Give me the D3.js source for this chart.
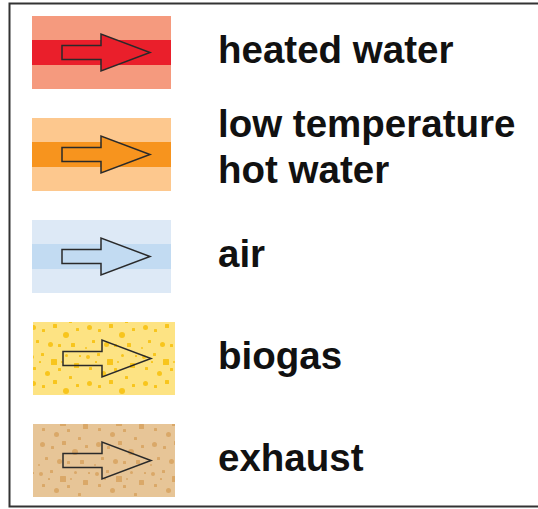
<!DOCTYPE html>
<html>
<head>
<meta charset="utf-8">
<script src="https://cdn.jsdelivr.net/npm/d3@7"></script>
<style>
  body { margin: 0; background: #fff; }
  svg { display: block; }
</style>
</head>
<body>
<div id="chart"></div>
<script>
// legend entries
var keys = ["heated", "lowtemp", "air", "biogas", "exhaust"];
var labels = [["heated water"], ["low temperature", "hot water"], ["air"], ["biogas"], ["exhaust"]];
var outerColors = ["#f59a7e", "#fdc88e", "#dde9f6", "#fde383", "#e7c597"];
var bandColors = ["#ea1f2b", "#f7941e", "#c2dbf2", null, null];
var speckleColors = [null, null, null, "#f8c51c", "#daa868"];

var width = 538, height = 509;
var svg = d3.select("#chart").append("svg").attr("width", width).attr("height", height);

// speckled texture for gases
var defs = svg.append("defs");
var specks = [[3,4,4],[14,2,3],[24,8,6],[38,3,3],[47,12,5],[6,16,3],[18,20,5],[31,17,3],
              [42,25,3],[4,30,5],[15,34,3],[26,29,4],[36,37,6],[49,33,3],[9,45,3],[21,47,5],
              [31,49,3],[44,48,4],[2,52,2],[52,4,2],[12,10,2],[34,10,2]];
keys.forEach(function(k, i) {
    if (!speckleColors[i]) return;
    var p = defs.append("pattern").attr("id", "tex-" + k)
        .attr("patternUnits", "userSpaceOnUse").attr("width", 56).attr("height", 56)
        .attr("x", i * 9).attr("y", i * 5);
    p.append("rect").attr("width", 56).attr("height", 56).attr("fill", outerColors[i]);
    p.selectAll("rect.s").data(specks).enter().append("rect").attr("class", "s")
        .attr("x", function(d) { return d[0]; })
        .attr("y", function(d) { return d[1]; })
        .attr("width", function(d) { return d[2]; })
        .attr("height", function(d) { return d[2]; })
        .attr("rx", function(d, j) { return j % 3 === 0 ? d[2] / 2 : 0.5; })
        .attr("fill", speckleColors[i]);
});

// frame
svg.append("rect")
    .attr("x", 9.5).attr("y", 3.5)
    .attr("width", width + 20).attr("height", 503)
    .attr("fill", "none").attr("stroke", "#333").attr("stroke-width", 2);

var y = d3.scalePoint().domain(keys).range([52.5, 460.5]);
var boxH = 73, bandH = 25;
var boxX = function(i) { return speckleColors[i] ? 33 : 32; };
var boxW = function(i) { return speckleColors[i] ? 142 : 139; };

var arrow = function(bx, cy) {
    var x0 = bx + 30, x1 = bx + 69, x2 = bx + 118, s = 7, h = 18.5;
    return "M" + x0 + "," + (cy - s) + "H" + x1 + "V" + (cy - h) + "L" + x2 + "," + cy +
        "L" + x1 + "," + (cy + h) + "V" + (cy + s) + "H" + x0 + "Z";
};

var item = svg.selectAll("g.item").data(keys).enter().append("g").attr("class", "item");

item.append("rect")
    .attr("x", function(d, i) { return boxX(i); })
    .attr("y", function(d) { return y(d) - boxH / 2; })
    .attr("width", function(d, i) { return boxW(i); }).attr("height", boxH)
    .attr("fill", function(d, i) { return speckleColors[i] ? "url(#tex-" + d + ")" : outerColors[i]; });

item.filter(function(d, i) { return bandColors[i]; }).append("rect")
    .attr("x", function(d) { return boxX(keys.indexOf(d)); })
    .attr("y", function(d) { return y(d) - bandH / 2; })
    .attr("width", function(d) { return boxW(keys.indexOf(d)); }).attr("height", bandH)
    .attr("fill", function(d) { return bandColors[keys.indexOf(d)]; });

item.append("path")
    .attr("d", function(d, i) { return arrow(boxX(i), y(d)); })
    .attr("fill", function(d, i) { return bandColors[i] || "none"; })
    .attr("stroke", "#2a2a2a").attr("stroke-width", 1.5)
    .attr("stroke-linejoin", "miter");

item.append("text")
    .attr("font-family", "'Liberation Sans', Arial, sans-serif")
    .attr("font-weight", "bold").attr("font-size", 38.5).attr("fill", "#111")
    .each(function(d, i) {
        var lines = labels[i], cy = y(d);
        var first = cy + 10 - (lines.length - 1) * 27.5;
        d3.select(this).selectAll("tspan").data(lines).enter().append("tspan")
            .attr("x", 218)
            .attr("y", function(t, j) { return first + j * 46; })
            .text(function(t) { return t; });
    });
</script>
</body>
</html>
